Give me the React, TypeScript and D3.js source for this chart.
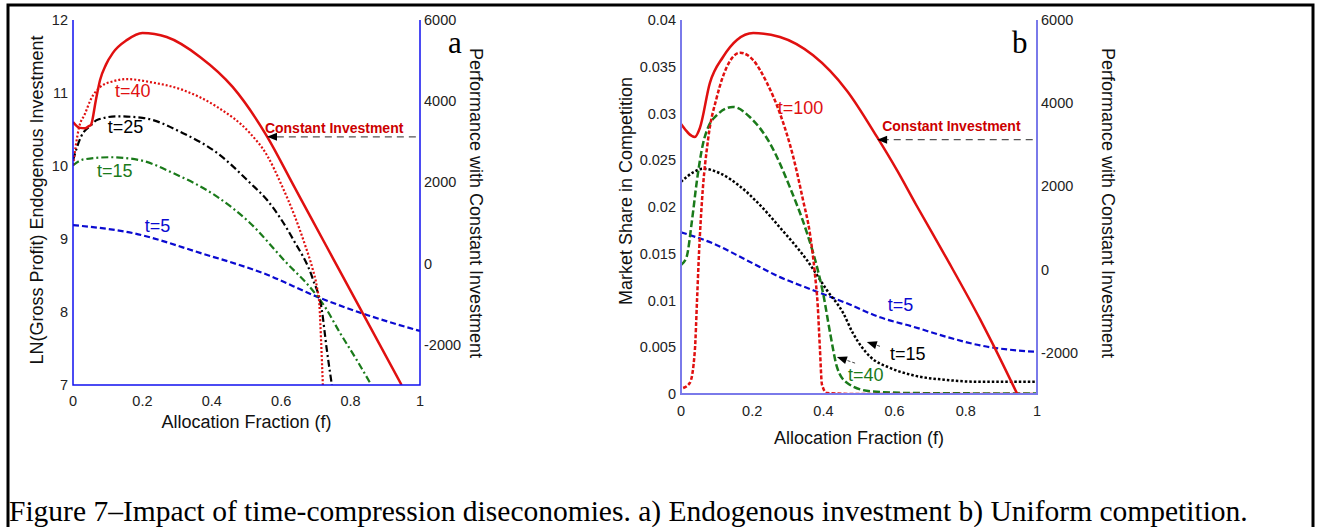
import * as d3 from "d3";

type Pt = [number, number];

// axis ticks
const xTickValues = [0, 0.2, 0.4, 0.6, 0.8, 1];
const xTickLabels = ["0", "0.2", "0.4", "0.6", "0.8", "1"];
const lnTickValues = [7, 8, 9, 10, 11, 12];
const lnTickLabels = ["7", "8", "9", "10", "11", "12"];
const shareTickValues = [0, 0.005, 0.01, 0.015, 0.02, 0.025, 0.03, 0.035, 0.04];
const shareTickLabels = ["0", "0.005", "0.01", "0.015", "0.02", "0.025", "0.03", "0.035", "0.04"];
const perfTickValues = [-2000, 0, 2000, 4000, 6000];
const perfTickLabels = ["-2000", "0", "2000", "4000", "6000"];

// panel a: LN(gross profit), endogenous investment  [f, value]
const aT40: Pt[] = [
  [0, 10.01], [0.017, 10.52], [0.035, 10.72], [0.05, 10.9], [0.078, 11.08], [0.115, 11.16],
  [0.156, 11.19], [0.222, 11.15], [0.317, 11.04], [0.415, 10.81], [0.51, 10.45],
  [0.56, 10.14], [0.6, 9.75], [0.64, 9.3], [0.67, 8.9], [0.69, 8.6], [0.703, 8.34],
  [0.71, 8.1], [0.715, 7.6], [0.72, 7.0],
];
const aT25: Pt[] = [
  [0, 10.08], [0.023, 10.4], [0.052, 10.56], [0.069, 10.63], [0.127, 10.68], [0.2, 10.66],
  [0.317, 10.45], [0.415, 10.18], [0.51, 9.77], [0.56, 9.53], [0.597, 9.29], [0.635, 8.99],
  [0.692, 8.44], [0.717, 8.03], [0.731, 7.5], [0.746, 7.0],
];
const aT15: Pt[] = [
  [0, 10.01], [0.03, 10.09], [0.107, 10.12], [0.193, 10.08], [0.29, 9.9], [0.415, 9.58],
  [0.51, 9.22], [0.616, 8.67], [0.683, 8.34], [0.726, 8.07], [0.77, 7.71], [0.818, 7.34],
  [0.856, 7.03],
];
const aT5: Pt[] = [
  [0, 9.19], [0.173, 9.08], [0.366, 8.81], [0.56, 8.51], [0.703, 8.21], [0.847, 7.96], [1, 7.74],
];
// performance with constant investment (right axis)
const aConstant: Pt[] = [
  [0, 3485], [0.02, 3340], [0.035, 3330], [0.045, 3380], [0.052, 3420], [0.066, 4030],
  [0.078, 4520], [0.095, 4900], [0.115, 5190], [0.156, 5510], [0.2, 5680], [0.27, 5580],
  [0.366, 5090], [0.46, 4350], [0.559, 3130], [0.634, 1945], [0.683, 1170], [0.75, 112],
  [0.827, -1104], [0.947, -3000],
];

// panel b: market share in competition
const bT100: Pt[] = [
  [0.006, 0.00064], [0.025, 0.0012], [0.039, 0.0047], [0.045, 0.01], [0.051, 0.0154],
  [0.059, 0.0207], [0.076, 0.0272], [0.101, 0.0318], [0.129, 0.035], [0.166, 0.0365],
  [0.203, 0.0357], [0.241, 0.0333], [0.278, 0.03], [0.315, 0.0254], [0.343, 0.0207],
  [0.362, 0.0172], [0.376, 0.0129], [0.384, 0.0095], [0.39, 0.005], [0.396, 0.001],
  [0.41, 0.0001], [0.5, 0], [1, 0],
];
const bT40: Pt[] = [
  [0, 0.0138], [0.016, 0.0147], [0.031, 0.0186], [0.045, 0.0229], [0.062, 0.0268],
  [0.076, 0.0285], [0.1, 0.0298], [0.146, 0.0307], [0.194, 0.0296], [0.25, 0.0268],
  [0.306, 0.0221], [0.354, 0.0172], [0.382, 0.0136], [0.399, 0.0108], [0.419, 0.0065],
  [0.438, 0.0029], [0.466, 0.0012], [0.531, 0.0003], [0.652, 0.0001], [1, 0.00005],
];
const bT15: Pt[] = [
  [0, 0.0227], [0.034, 0.0237], [0.062, 0.0241], [0.11, 0.0236], [0.166, 0.0222],
  [0.222, 0.0202], [0.278, 0.0178], [0.354, 0.0143], [0.41, 0.0111], [0.455, 0.0087],
  [0.483, 0.0065], [0.531, 0.004], [0.587, 0.0028], [0.652, 0.002], [0.747, 0.0015],
  [0.84, 0.0013], [1, 0.0013],
];
const bT5: Pt[] = [
  [0, 0.0173], [0.09, 0.0161], [0.185, 0.0143], [0.278, 0.0125], [0.371, 0.0111],
  [0.466, 0.0097], [0.559, 0.0082], [0.652, 0.0072], [0.747, 0.0061], [0.84, 0.0052],
  [1, 0.0045],
];
const bConstant: Pt[] = [
  [0, 3498], [0.039, 3185], [0.053, 3400], [0.081, 4480], [0.118, 5110], [0.157, 5520],
  [0.203, 5687], [0.278, 5590], [0.371, 5150], [0.466, 4300], [0.551, 3180], [0.607, 2380],
  [0.66, 1560], [0.747, 250], [0.84, -1200], [0.876, -1800], [0.944, -2990],
];

const RED = "#e01010";
const GREEN = "#1a7a1a";
const BLUE = "#0a0ad0";
const SANS = "'Liberation Sans', Arial, sans-serif";
const SERIF = "'Liberation Serif', 'Times New Roman', serif";

type Series = { data: Pt[]; axis: "left" | "right"; color: string; width: number; dash?: string };
type Note = { text: string; f: number; v: number; color: string; axis?: "left" | "right"; bold?: boolean; size?: number };

type PanelProps = {
  id: string;
  x0: number;
  x1: number;
  yTop: number;
  yBot: number;
  leftDomain: [number, number];
  leftTicks: number[];
  leftLabels: string[];
  leftTitle: string;
  leftTitleX: number;
  leftTitleY: number;
  rightTitleX: number;
  frameColor: string;
  frameWidth: number;
  xTickY: number;
  xTitleY: number;
  letter: string;
  letterX: number;
  arrowF: [number, number];
  series: Series[];
  notes: Note[];
  smallArrows: { from: Pt; to: Pt }[];
};

function arrowHead(x: number, y: number, angle: number, len = 10, half = 4) {
  const c = Math.cos(angle), s = Math.sin(angle);
  const bx = x + len * c, by = y + len * s;
  return `${x},${y} ${bx - half * s},${by + half * c} ${bx + half * s},${by - half * c}`;
}

function Panel(p: PanelProps) {
  const x = d3.scaleLinear().domain([0, 1]).range([p.x0, p.x1]);
  const yL = d3.scaleLinear().domain(p.leftDomain).range([p.yBot, p.yTop]);
  const yR = d3.scaleLinear().domain([-3000, 6000]).range([p.yBot, p.yTop]);
  const yOf = (axis: "left" | "right" | undefined) => (axis === "right" ? yR : yL);

  const arrowY = yR(3120);

  return (
    <g>
      <defs>
        <clipPath id={`clip-${p.id}`}>
          <rect x={p.x0} y={p.yTop - 4} width={p.x1 - p.x0} height={p.yBot - p.yTop + 4} />
        </clipPath>
      </defs>
      <g clipPath={`url(#clip-${p.id})`}>
        {p.series.map((s, i) => {
          const yy = yOf(s.axis);
          const line = d3
            .line<Pt>()
            .x((d) => x(d[0]))
            .y((d) => yy(d[1]))
            .curve(d3.curveMonotoneX);
          return (
            <path
              key={i}
              d={line(s.data) || ""}
              fill="none"
              stroke={s.color}
              strokeWidth={s.width}
              strokeDasharray={s.dash}
            />
          );
        })}
      </g>
      {/* frame: left, bottom, right */}
      <path
        d={`M${p.x0},${p.yTop}V${p.yBot}H${p.x1}V${p.yTop}`}
        fill="none"
        stroke={p.frameColor}
        strokeWidth={p.frameWidth}
      />
      {p.leftTicks.map((t, i) => (
        <text key={t} x={p.x0 - 5} y={yL(t)} dy="0.36em" textAnchor="end" fontSize={14.5} fill="#222" fontFamily={SANS}>
          {p.leftLabels[i]}
        </text>
      ))}
      {perfTickValues.map((t, i) => (
        <text key={t} x={p.x1 + 4} y={yR(t)} dy="0.36em" textAnchor="start" fontSize={14.5} fill="#222" fontFamily={SANS}>
          {perfTickLabels[i]}
        </text>
      ))}
      {xTickValues.map((t, i) => (
        <text key={t} x={x(t)} y={p.xTickY} textAnchor="middle" fontSize={14.5} fill="#222" fontFamily={SANS}>
          {xTickLabels[i]}
        </text>
      ))}
      <text x={(p.x0 + p.x1) / 2} y={p.xTitleY} textAnchor="middle" fontSize={18} fill="#111" fontFamily={SANS}>
        Allocation Fraction (f)
      </text>
      <text
        transform={`translate(${p.leftTitleX},${p.leftTitleY}) rotate(-90)`}
        textAnchor="middle"
        fontSize={18}
        fill="#111"
        fontFamily={SANS}
      >
        {p.leftTitle}
      </text>
      <text
        transform={`translate(${p.rightTitleX},${203}) rotate(90)`}
        textAnchor="middle"
        fontSize={18}
        fill="#111"
        fontFamily={SANS}
      >
        Performance with Constant Investment
      </text>
      <text x={p.letterX} y={53} fontSize={31} fill="#000" fontFamily={SERIF}>
        {p.letter}
      </text>
      {/* Constant Investment pointer */}
      <line
        x1={x(p.arrowF[1])}
        x2={x(p.arrowF[0]) + 9}
        y1={arrowY}
        y2={arrowY}
        stroke="#555"
        strokeWidth={1.2}
        strokeDasharray="7,5"
      />
      <polygon points={arrowHead(x(p.arrowF[0]), arrowY, 0, 10, 4)} fill="#000" />
      {p.smallArrows.map((a, i) => {
        const fx = x(a.from[0]), fy = yL(a.from[1]);
        const tx = x(a.to[0]), ty = yL(a.to[1]);
        const ang = Math.atan2(fy - ty, fx - tx);
        return (
          <g key={i}>
            <line x1={fx} y1={fy} x2={tx + 9 * Math.cos(ang)} y2={ty + 9 * Math.sin(ang)} stroke="#444" strokeWidth={1} strokeDasharray="3,2" />
            <polygon points={arrowHead(tx, ty, ang, 10, 4)} fill="#000" />
          </g>
        );
      })}
      {p.notes.map((n, i) => (
        <text
          key={i}
          x={x(n.f)}
          y={yOf(n.axis)(n.v)}
          fontSize={n.size ?? 18}
          fontWeight={n.bold ? "bold" : "normal"}
          fill={n.color}
          fontFamily={SANS}
        >
          {n.text}
        </text>
      ))}
    </g>
  );
}

export default function App() {
  return (
    <svg
      width={1320}
      height={527}
      style={{ position: "absolute", left: 0, top: 0, display: "block", background: "#fff" }}
    >
      <rect x={8} y={5} width={1305} height={560} fill="#fff" stroke="#000" strokeWidth={3} />
      <Panel
        id="a"
        x0={73}
        x1={420}
        yTop={20}
        yBot={385}
        leftDomain={[7, 12]}
        leftTicks={lnTickValues}
        leftLabels={lnTickLabels}
        leftTitle="LN(Gross Profit) Endogenous Investment"
        leftTitleX={43}
        leftTitleY={200}
        rightTitleX={470}
        frameColor="#1010f0"
        frameWidth={1.5}
        xTickY={406}
        xTitleY={428}
        letter="a"
        letterX={448}
        arrowF={[0.559, 0.988]}
        series={[
          { data: aT5, axis: "left", color: BLUE, width: 2.2, dash: "6,3" },
          { data: aT15, axis: "left", color: GREEN, width: 2.2, dash: "7,3,2,3" },
          { data: aT25, axis: "left", color: "#000", width: 2.2, dash: "7,3,2,3" },
          { data: aT40, axis: "left", color: RED, width: 2.2, dash: "2,2" },
          { data: aConstant, axis: "right", color: RED, width: 2.5 },
        ]}
        notes={[
          { text: "t=40", f: 0.121, v: 10.95, color: RED },
          { text: "t=25", f: 0.1, v: 10.45, color: "#000" },
          { text: "t=15", f: 0.069, v: 9.85, color: GREEN },
          { text: "t=5", f: 0.207, v: 9.1, color: BLUE },
          { text: "Constant Investment", f: 0.553, v: 3213, axis: "right", color: "#cc0000", bold: true, size: 14 },
        ]}
        smallArrows={[]}
      />
      <Panel
        id="b"
        x0={681}
        x1={1037}
        yTop={20}
        yBot={394}
        leftDomain={[0, 0.04]}
        leftTicks={shareTickValues}
        leftLabels={shareTickLabels}
        leftTitle="Market Share in Competition"
        leftTitleX={632}
        leftTitleY={191}
        rightTitleX={1102}
        frameColor="#7a7aea"
        frameWidth={2}
        xTickY={416}
        xTitleY={444}
        letter="b"
        letterX={1012}
        arrowF={[0.551, 0.988]}
        series={[
          { data: bT5, axis: "left", color: BLUE, width: 2.2, dash: "6,3" },
          { data: bT15, axis: "left", color: "#000", width: 2.5, dash: "2.5,2" },
          { data: bT40, axis: "left", color: GREEN, width: 2.5, dash: "7,3" },
          { data: bT100, axis: "left", color: RED, width: 2.5, dash: "4,2" },
          { data: bConstant, axis: "right", color: RED, width: 2.5 },
        ]}
        notes={[
          { text: "t=100", f: 0.272, v: 0.03, color: RED },
          { text: "t=5", f: 0.581, v: 0.0089, color: BLUE },
          { text: "t=15", f: 0.587, v: 0.0036, color: "#000" },
          { text: "t=40", f: 0.469, v: 0.0014, color: GREEN },
          { text: "Constant Investment", f: 0.565, v: 3329, axis: "right", color: "#cc0000", bold: true, size: 14 },
        ]}
        smallArrows={[
          { from: [0.559, 0.0051], to: [0.522, 0.00556] },
          { from: [0.489, 0.0033], to: [0.438, 0.00396] },
        ]}
      />
      <text x={9} y={521} fontSize={29.5} fill="#000" fontFamily={SERIF}>
        Figure 7–Impact of time-compression diseconomies. a) Endogenous investment b) Uniform competition.
      </text>
    </svg>
  );
}
